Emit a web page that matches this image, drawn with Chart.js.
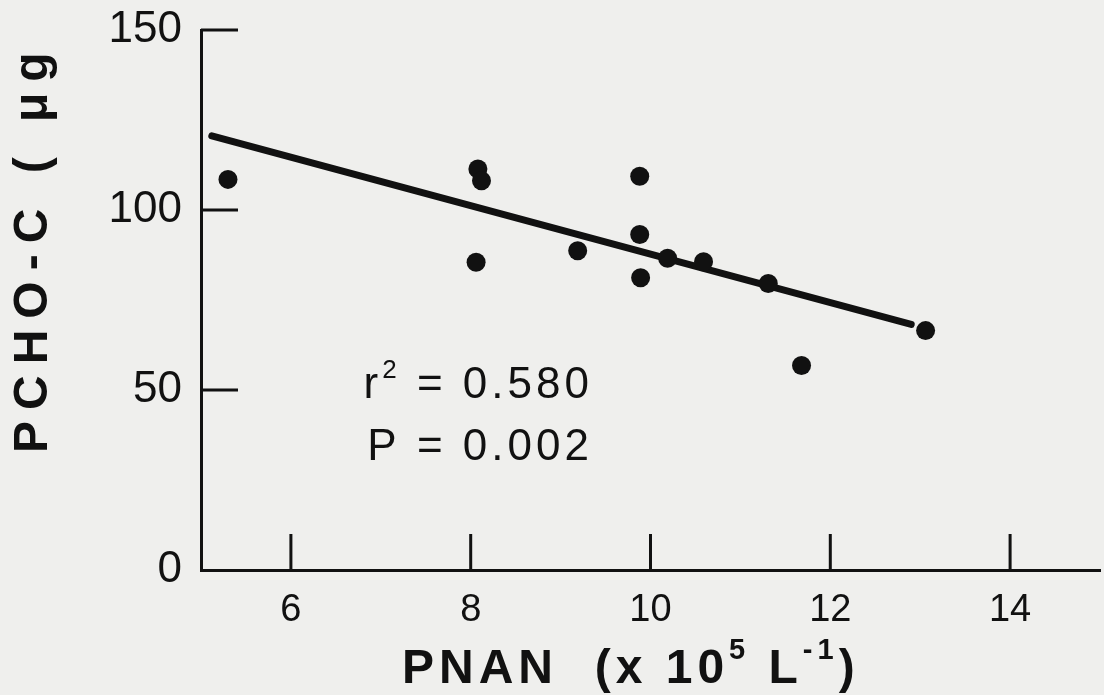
<!DOCTYPE html>
<html>
<head>
<meta charset="utf-8">
<script src="https://cdn.jsdelivr.net/npm/chart.js@4.4.1/dist/chart.umd.min.js"></script>
<style>
  html, body { margin: 0; padding: 0; background: #efefed; }
</style>
</head>
<body>
<canvas id="myChart" width="1104" height="695"></canvas>
<script>
// points
const pnan = [5.30, 8.08, 8.12, 8.06, 9.19, 9.88, 9.88, 9.89, 10.19, 10.59, 11.31, 11.68, 13.06];
const pcho = [108.5, 111.4, 108.1, 85.5, 88.7, 109.4, 93.2, 81.2, 86.6, 85.6, 79.6, 56.8, 66.5];

// regression line ends
const fitPnan = [5.12, 12.9];
const fitPcho = [120.6, 68.2];

const xTickValues = [6, 8, 10, 12, 14];
const yTickValues = [0, 50, 100, 150];

const yTitle = "PCHO-C ( μg";
// [text, superscript?]
const xTitleRuns = [["PNAN  (x 10", false], ["5", true], [" L", false], ["-1", true], [")", false]];
const r2Runs = [["r", false], ["2", true], [" = 0.580", false]];
const pRuns = [["P = 0.002", false]];
const statPos = { x: 9.36, r2: 47.8, p: 30.6 };

const ink = "#111";
const paper = "#efefed";
const family = "'Liberation Sans', Arial, sans-serif";

function drawRuns(ctx, runs, x, y, opts) {
  const big = opts.size, small = Math.round(opts.size * 0.6);
  ctx.letterSpacing = opts.spacing + "px";
  let total = 0;
  const widths = runs.map(([t, sup]) => {
    ctx.font = `${opts.weight} ${sup ? small : big}px ${family}`;
    const w = ctx.measureText(t).width;
    total += w;
    return w;
  });
  let cx = opts.align === "right" ? x - total : x;
  runs.forEach(([t, sup], i) => {
    ctx.font = `${opts.weight} ${sup ? small : big}px ${family}`;
    ctx.fillText(t, cx, sup ? y - big * opts.rise : y);
    cx += widths[i];
  });
  ctx.letterSpacing = "0px";
}

const paperPlugin = {
  id: "paper",
  beforeDraw(chart) {
    const ctx = chart.ctx;
    ctx.save();
    ctx.fillStyle = paper;
    ctx.fillRect(0, 0, chart.width, chart.height);
    ctx.restore();
  }
};

// ticks in the scan point into the plot
const inwardTicks = {
  id: "inwardTicks",
  beforeDatasetsDraw(chart) {
    const { ctx, scales: { x, y } } = chart;
    ctx.save();
    ctx.strokeStyle = ink;
    ctx.lineWidth = 3;
    ctx.beginPath();
    xTickValues.forEach(v => {
      const px = x.getPixelForValue(v);
      ctx.moveTo(px, y.bottom);
      ctx.lineTo(px, y.bottom - 36);
    });
    yTickValues.filter(v => v > 0).forEach(v => {
      const py = y.getPixelForValue(v);
      ctx.moveTo(x.left, py);
      ctx.lineTo(x.left + 37, py);
    });
    ctx.stroke();
    ctx.restore();
  }
};

const labelsPlugin = {
  id: "labels",
  afterDraw(chart) {
    const { ctx, scales: { x, y } } = chart;
    ctx.save();
    ctx.fillStyle = ink;
    ctx.textBaseline = "alphabetic";
    ctx.textAlign = "left";

    // x axis title
    drawRuns(ctx, xTitleRuns, 402, 683, { size: 48, weight: "bold", spacing: 5, rise: 0.5, align: "left" });

    // y axis title, rotated
    ctx.save();
    ctx.translate(47, 453);
    ctx.rotate(-Math.PI / 2);
    drawRuns(ctx, [[yTitle, false]], 0, 0, { size: 48, weight: "bold", spacing: 11, rise: 0, align: "left" });
    ctx.restore();

    // stats
    const sx = x.getPixelForValue(statPos.x);
    drawRuns(ctx, r2Runs, sx, y.getPixelForValue(statPos.r2), { size: 44, weight: "normal", spacing: 4, rise: 0.45, align: "right" });
    drawRuns(ctx, pRuns, sx, y.getPixelForValue(statPos.p), { size: 44, weight: "normal", spacing: 4, rise: 0.45, align: "right" });
    ctx.restore();
  }
};

function noEdgePadding(s) {
  s.paddingTop = 0;
  s.paddingBottom = 0;
  s.paddingLeft = 0;
  s.paddingRight = 0;
}

const chart = new Chart(document.getElementById("myChart"), {
  type: "scatter",
  data: {
    datasets: [
      {
        type: "line",
        data: fitPnan.map((v, i) => ({ x: v, y: fitPcho[i] })),
        borderColor: ink,
        borderWidth: 7,
        borderCapStyle: "round",
        showLine: true,
        pointRadius: 0,
        order: 2
      },
      {
        data: pnan.map((v, i) => ({ x: v, y: pcho[i] })),
        backgroundColor: ink,
        borderWidth: 0,
        pointRadius: 9.5,
        order: 1
      }
    ]
  },
  options: {
    responsive: false,
    animation: false,
    layout: { autoPadding: false, padding: { top: 30, right: 4, left: 0, bottom: 0 } },
    plugins: {
      legend: { display: false },
      tooltip: { enabled: false }
    },
    scales: {
      x: {
        type: "linear",
        min: 5,
        max: 15,
        afterBuildTicks: s => { s.ticks = xTickValues.map(v => ({ value: v })); },
        afterFit: s => { s.height = 125; noEdgePadding(s); },
        grid: { display: false, drawTicks: false, tickLength: 0 },
        border: { display: true, color: ink, width: 3 },
        ticks: { color: ink, font: { family: family, size: 38 }, padding: 18, maxRotation: 0 }
      },
      y: {
        type: "linear",
        min: 0,
        max: 150,
        afterBuildTicks: s => { s.ticks = yTickValues.map(v => ({ value: v })); },
        afterFit: s => { s.width = 201; noEdgePadding(s); },
        grid: { display: false, drawTicks: false, tickLength: 0 },
        border: { display: true, color: ink, width: 3 },
        ticks: { color: ink, font: { family: family, size: 44 }, padding: 19 }
      }
    }
  },
  plugins: [paperPlugin, inwardTicks, labelsPlugin]
});
</script>
</body>
</html>
